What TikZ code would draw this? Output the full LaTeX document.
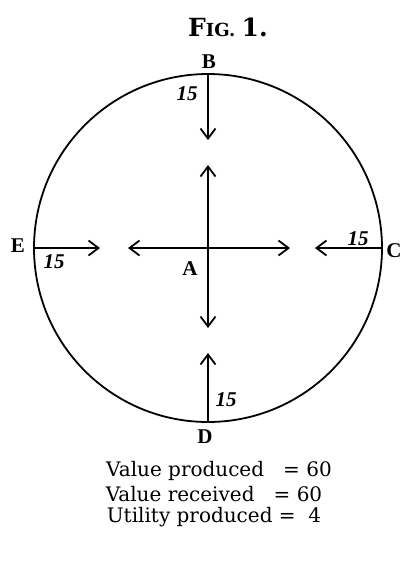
\documentclass[tikz,border=0pt]{standalone}
\usepackage{fontspec}
\setmainfont{DejaVu Serif}
\newfontfamily\oldface{Liberation Serif}
\usetikzlibrary{arrows.meta}

\tikzset{
  flow/.style={line width=1.8pt, -{Straight Barb[length=10pt,width=15pt,line width=1.8pt]}},
  pointlabel/.style={font=\oldface\bfseries\fontsize{21}{21}\selectfont, inner sep=0},
  amount/.style={font=\oldface\bfseries\itshape\fontsize{21}{21}\selectfont, inner sep=0},
  tally/.style={font=\fontsize{20}{20}\selectfont, inner sep=0}
}

\begin{document}
\begin{tikzpicture}[x=1pt,y=-1pt]
  \useasboundingbox (0,0) rectangle (405,563);

  \node[font=\bfseries\fontsize{25}{25}\selectfont] (title) at (228,27)
    {F\fontsize{18}{18}\selectfont IG. \fontsize{25}{25}\selectfont 1.};

  \coordinate (A) at (208,248);
  \draw[line width=1.8pt] (A) circle [radius=174pt];

  % points on the circle and arrow ends
  \coordinate (b) at (208,74);
  \coordinate (c) at (382,248);
  \coordinate (d) at (208,422);
  \coordinate (e) at (34,248);
  \coordinate (bin) at (208,140);
  \coordinate (cin) at (315,248);
  \coordinate (din) at (208,353);
  \coordinate (ein) at (100,248);
  \coordinate (up) at (208,165);
  \coordinate (down) at (208,328);
  \coordinate (left) at (128,248);
  \coordinate (right) at (290,248);

  \foreach \s/\t in {b/bin, c/cin, d/din, e/ein, A/up, A/down, A/left, A/right}
  {
    \draw[flow] (\s) -- (\t);
  }

  \node[pointlabel] (B) at (209,62) {B};
  \node[pointlabel] (C) at (394,251) {C};
  \node[pointlabel] (D) at (205,437) {D};
  \node[pointlabel] (E) at (18,246) {E};
  \node[pointlabel] (Alabel) at (190,269) {A};

  \node[amount] (qb) at (187,94) {15};
  \node[amount] (qc) at (358,239) {15};
  \node[amount] (qd) at (226,400) {15};
  \node[amount] (qe) at (54,262) {15};

  \node[tally] (produced) at (219,471) {Value produced \ \ = 60};
  \node[tally] (received) at (214,494) {Value received \ \ = 60};
  \node[tally] (utility) at (214,517) {Utility produced = \ 4};
\end{tikzpicture}
\end{document}
